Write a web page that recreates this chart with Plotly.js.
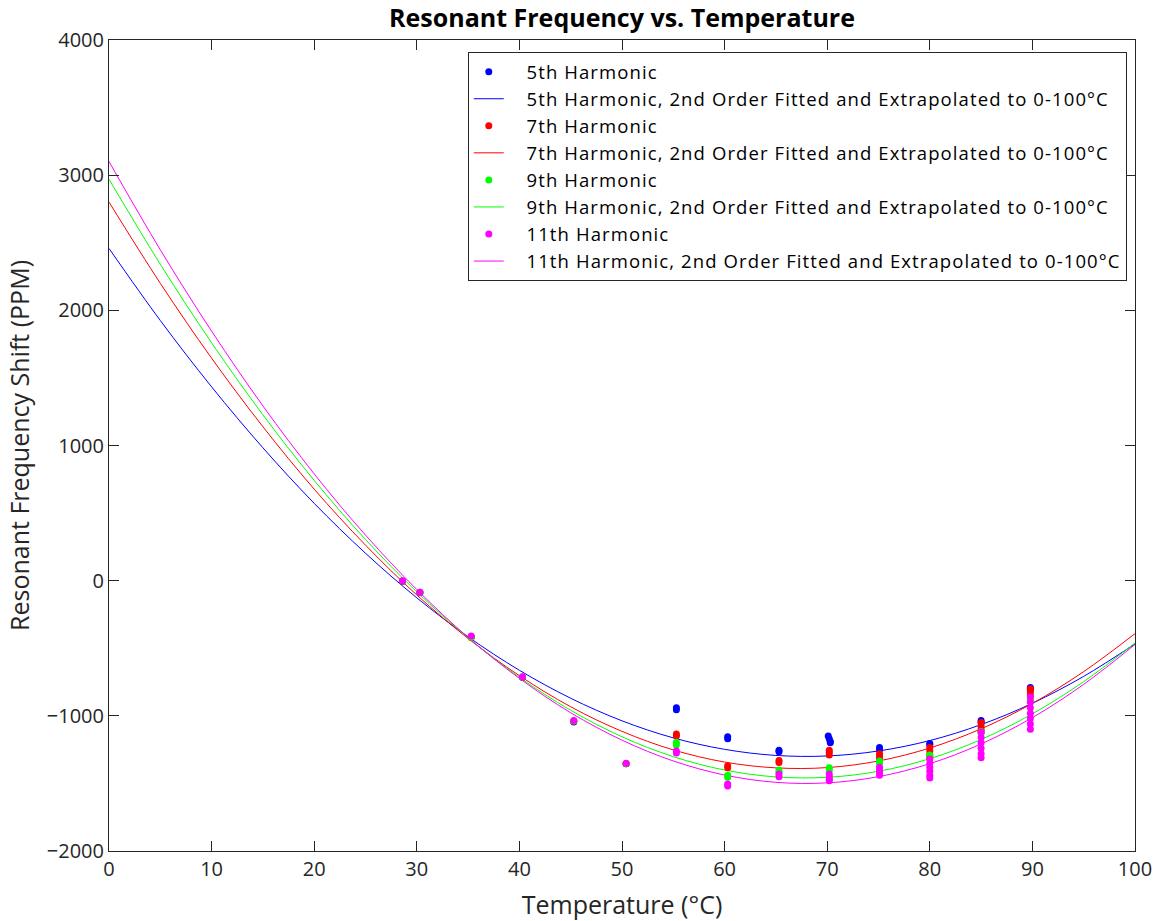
<!DOCTYPE html>
<html>
<head>
<meta charset="utf-8">
<script src="https://cdn.plot.ly/plotly-3.0.1.min.js"></script>
<style>
html,body{margin:0;padding:0;background:#fff;}
#chart{width:1160px;height:921px;}
text.legendtext{letter-spacing:1.1px;}
</style>
</head>
<body>
<div id="chart"></div>
<script>
// Measured points
const h5T = [28.6,30.3,35.3,40.3,45.3,50.4,55.3,55.3,60.3,60.3,65.3,65.3,70.1,70.2,70.3,70.3,75.1,75.1,80.0,80.0,85.0,85.0,89.8,89.8];
const h5V = [-5,-90,-415,-715,-1045,-1355,-940,-955,-1155,-1170,-1255,-1265,-1150,-1170,-1190,-1200,-1235,-1250,-1205,-1215,-1035,-1050,-790,-805];

const h7T = [28.6,30.3,35.3,40.3,45.3,50.4,55.3,55.3,60.3,60.3,65.3,65.3,70.2,70.2,70.2,75.1,75.1,75.1,80.0,80.0,80.0,80.0,85.0,85.0,85.0,85.0,89.8,89.8,89.8];
const h7V = [-5,-85,-420,-715,-1040,-1355,-1135,-1150,-1370,-1385,-1330,-1345,-1255,-1270,-1290,-1280,-1300,-1320,-1235,-1260,-1290,-1310,-1050,-1075,-1100,-1120,-800,-820,-845];

const h9T = [28.6,30.3,35.3,40.3,45.3,50.4,55.3,55.3,60.3,60.3,65.3,65.3,70.2,70.2,75.1,75.1,80.0,80.0,85.0,85.0,89.8,89.8];
const h9V = [-3,-88,-418,-712,-1038,-1352,-1195,-1215,-1440,-1455,-1400,-1420,-1385,-1400,-1335,-1350,-1290,-1305,-1115,-1130,-880,-890];

const h11T = [28.6,30.3,35.3,40.3,45.3,50.4,55.3,55.3,60.3,60.3,65.3,65.3,70.2,70.2,70.2,70.2,75.1,75.1,75.1,75.1,80.0,80.0,80.0,80.0,80.0,80.0,85.0,85.0,85.0,85.0,85.0,85.0,89.8,89.8,89.8,89.8,89.8,89.8,89.8];
const h11V = [0,-85,-410,-710,-1035,-1350,-1260,-1275,-1505,-1520,-1430,-1450,-1430,-1450,-1470,-1480,-1380,-1400,-1420,-1440,-1320,-1350,-1380,-1410,-1440,-1460,-1120,-1160,-1200,-1240,-1280,-1310,-860,-900,-940,-980,-1020,-1060,-1100];

// Fitted curves
const fitT = [0,5,10,15,20,25,30,35,40,45,50,55,60,65,70,75,80,85,90,95,100];
const fit5 = [2458,1925,1434,983,572,203,-127,-415,-663,-870,-1037,-1163,-1248,-1293,-1297,-1260,-1183,-1065,-907,-708,-468];
const fit7 = [2801,2200,1646,1139,677,263,-106,-428,-703,-933,-1115,-1252,-1342,-1385,-1383,-1334,-1238,-1096,-908,-673,-392];
const fit9 = [2970,2341,1760,1227,742,305,-83,-423,-715,-959,-1155,-1302,-1401,-1452,-1455,-1410,-1317,-1175,-985,-747,-461];
const fit11 = [3101,2448,1846,1293,790,337,-66,-420,-723,-977,-1180,-1334,-1438,-1492,-1496,-1450,-1354,-1208,-1013,-767,-472];

const names = ['5th Harmonic','7th Harmonic','9th Harmonic','11th Harmonic'];
const fitSuffix = ', 2nd Order Fitted and Extrapolated to 0-100°C';
const colors = ['#0000ff','#ff0000','#00ff00','#ff00ff'];
const ptsT = [h5T,h7T,h9T,h11T];
const ptsV = [h5V,h7V,h9V,h11V];
const fits = [fit5,fit7,fit9,fit11];
const PAD = '\u00a0\u00a0\u00a0';

const traces = [];
for (let i = 0; i < 4; i++) {
  traces.push({
    x: ptsT[i], y: ptsV[i], type: 'scatter', mode: 'markers', name: PAD + names[i],
    marker: {color: colors[i], size: 7, symbol: 'circle'}
  });
  traces.push({
    x: fitT, y: fits[i], type: 'scatter', mode: 'lines',
    name: PAD + names[i] + fitSuffix,
    line: {color: colors[i], width: 1, shape: 'spline'}
  });
}
traces.forEach((t, k) => { t.legendrank = k + 1; });
const ordered = traces.filter(t => t.mode === 'lines').concat(traces.filter(t => t.mode === 'markers'));

const FONT = 'Open Sans, Noto Sans, sans-serif';
const axisCommon = {
  showgrid: false, zeroline: false, showline: true, linecolor: '#262626', linewidth: 1,
  mirror: 'ticks', ticks: 'inside', ticklen: 10, tickcolor: '#262626', tickwidth: 1,
  tickfont: {family: FONT, size: 20, color: '#262626'}
};

const layout = {
  width: 1160, height: 921,
  paper_bgcolor: '#ffffff', plot_bgcolor: '#ffffff',
  margin: {l: 109, r: 25, t: 40, b: 70},
  font: {family: FONT, color: '#262626'},
  title: {text: '<b>Resonant Frequency vs. Temperature</b>', xref: 'paper', x: 0.5, xanchor: 'center',
          yref: 'container', y: 0.980, yanchor: 'middle',
          font: {family: FONT, size: 25, color: '#000000'}},
  xaxis: Object.assign({}, axisCommon, {
    range: [0, 100], tickvals: [0,10,20,30,40,50,60,70,80,90,100],
    title: {text: 'Temperature (°C)', font: {family: FONT, size: 25, color: '#262626'}, standoff: 17}
  }),
  yaxis: Object.assign({}, axisCommon, {
    range: [-2000, 4000], tickvals: [-2000,-1000,0,1000,2000,3000,4000],
    title: {text: 'Resonant Frequency Shift (PPM)', font: {family: FONT, size: 25, color: '#262626'}, standoff: 10}
  }),
  legend: {
    x: 0.992, xanchor: 'right', y: 0.985, yanchor: 'top',
    bgcolor: '#ffffff', bordercolor: '#262626', borderwidth: 1,
    font: {family: FONT, size: 18.5, color: '#000000'},
    traceorder: 'normal'
  },
  showlegend: true
};

Plotly.newPlot('chart', ordered, layout, {displayModeBar: false, staticPlot: true});
</script>
</body>
</html>
